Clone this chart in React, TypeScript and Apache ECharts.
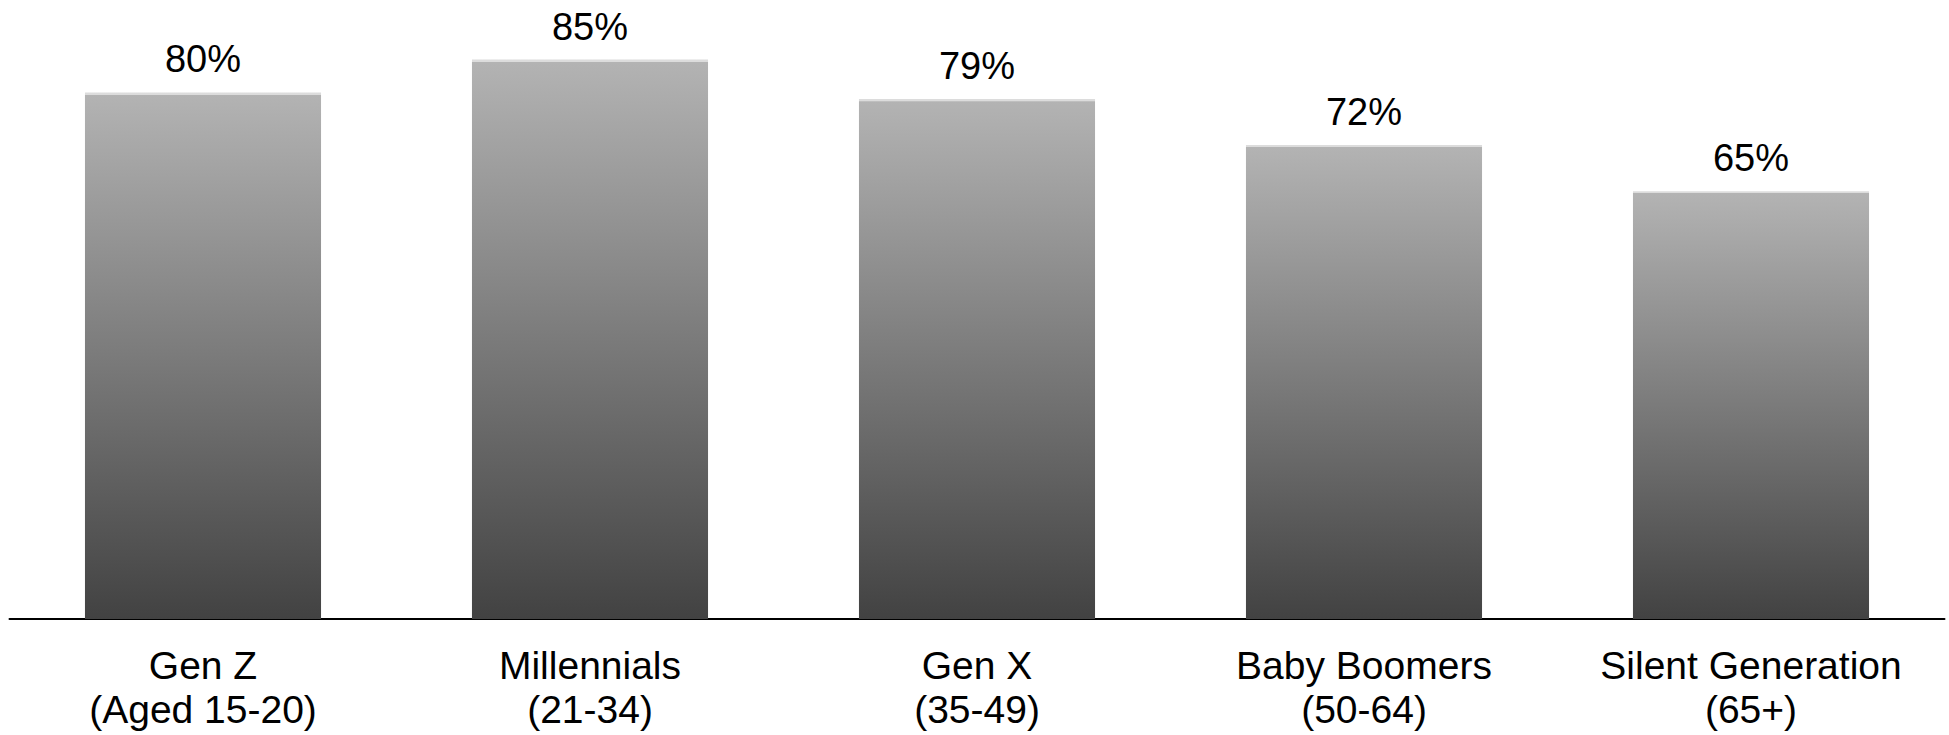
import React, { useEffect, useRef } from "react";
import * as echarts from "echarts";

const categories = [
  "Gen Z\n(Aged 15-20)",
  "Millennials\n(21-34)",
  "Gen X\n(35-49)",
  "Baby Boomers\n(50-64)",
  "Silent Generation\n(65+)",
];
const values = [80, 85, 79, 72, 65];

export default function App() {
  const ref = useRef<HTMLDivElement>(null);
  useEffect(() => {
    if (!ref.current) return;
    const chart = echarts.init(ref.current, null, { renderer: "svg" });
    chart.setOption({
      animation: false,
      backgroundColor: "#ffffff",
      textStyle: { fontFamily: "Liberation Sans, Arial, sans-serif" },
      grid: { left: 9.5, right: 4.5, top: 0, bottom: 116, containLabel: false },
      xAxis: {
        type: "category",
        data: categories,
        axisLine: { show: true, lineStyle: { color: "#000000", width: 2 } },
        axisTick: { show: false },
        axisLabel: {
          color: "#000000",
          fontSize: 39,
          lineHeight: 44,
          margin: 24,
          interval: 0,
          fontFamily: "Liberation Sans, Arial, sans-serif",
        },
      },
      yAxis: {
        type: "value",
        min: 0,
        max: 94.05,
        show: false,
        splitLine: { show: false },
      },
      series: [
        {
          type: "bar",
          data: values,
          barWidth: "61%",
          itemStyle: {
            color: new echarts.graphic.LinearGradient(0, 0, 0, 1, [
              { offset: 0, color: "#dcdcdc" },
              { offset: 0.004, color: "#dcdcdc" },
              { offset: 0.005, color: "#b3b3b3" },
              { offset: 1, color: "#424242" },
            ]),
          },
          label: {
            show: true,
            position: "top",
            distance: 14,
            formatter: "{c}%",
            color: "#000000",
            fontSize: 38,
            lineHeight: 38,
            fontFamily: "Liberation Sans, Arial, sans-serif",
          },
        },
      ],
    });
    return () => chart.dispose();
  }, []);
  return (
    <div
      ref={ref}
      style={{ position: "fixed", left: 0, top: 0, width: 1949, height: 735 }}
    />
  );
}
